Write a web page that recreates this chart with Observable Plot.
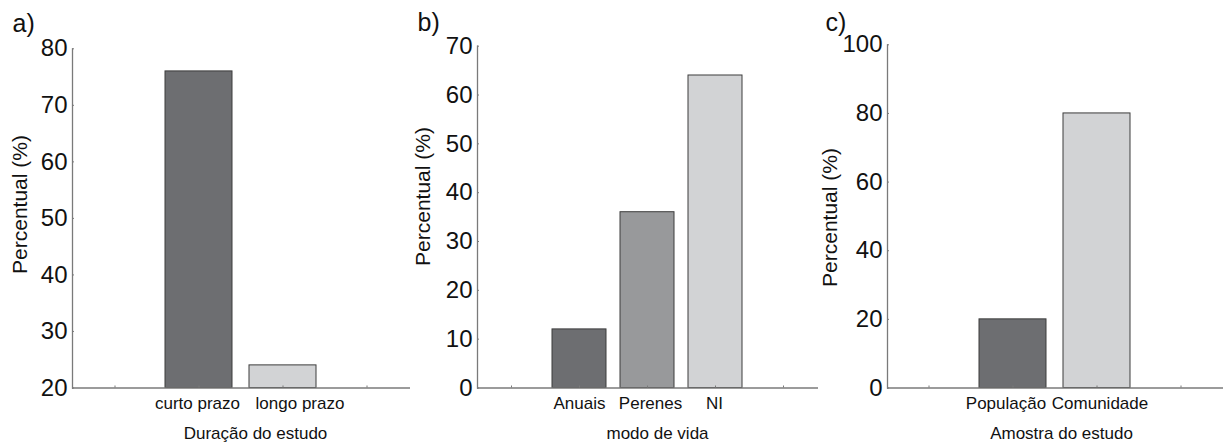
<!DOCTYPE html>
<html><head><meta charset="utf-8">
<script src="https://cdn.jsdelivr.net/npm/d3@7"></script>
<script src="https://cdn.jsdelivr.net/npm/@observablehq/plot@0.6"></script>
<style>
html,body{margin:0;padding:0;background:#fff;}
#wrap{position:relative;width:1223px;height:446px;display:flex;overflow:hidden;}
#wrap svg{display:block;flex:none;overflow:visible;}
</style></head><body><div id="wrap"></div>
<script>
// ---- Data ----
// a) Duração do estudo
const catsA = ["curto prazo", "longo prazo"];
const valsA = [76, 24];
const colorsA = ["#6d6e71", "#d2d3d5"];
const ticksA = [20, 30, 40, 50, 60, 70, 80];
const domainA = [20, 80];
const xLabelA = "Duração do estudo";

// b) modo de vida
const catsB = ["Anuais", "Perenes", "NI"];
const valsB = [12, 36, 64];
const colorsB = ["#6d6e71", "#98999b", "#d2d3d5"];
const ticksB = [0, 10, 20, 30, 40, 50, 60, 70];
const domainB = [0, 70];
const xLabelB = "modo de vida";

// c) Amostra do estudo
const catsC = ["População", "Comunidade"];
const valsC = [20, 80];
const colorsC = ["#6d6e71", "#d2d3d5"];
const ticksC = [0, 20, 40, 60, 80, 100];
const domainC = [0, 100];
const xLabelC = "Amostra do estudo";

const yLabel = "Percentual (%)";
const panelLabels = ["a)", "b)", "c)"];

const FONT = "'Liberation Sans', Arial, Helvetica, sans-serif";
const H = 446;
const AXIS = "#7a7a7a";

function makePanel(p) {
  const pad0 = "\u2009L", pad1 = "\u2009R";
  const domain = [pad0, ...p.cats, pad1];
  const data = p.cats.map((c, i) => ({cat: c, val: p.vals[i], color: p.colors[i]}));
  const fl = p.marginLeft, fr = p.width - p.marginRight;
  const ft = p.marginTop, fb = H - p.marginBottom;
  const fcx = (fl + fr) / 2, fcy = (ft + fb) / 2;
  const rel = x => x - p.left;
  const catLabels = p.cats.map((c, i) =>
    Plot.text([c], {x: d => d, text: d => d, frameAnchor: "bottom", textAnchor: "middle", lineAnchor: "bottom",
      fontSize: 17, fill: "#111", dx: p.catDx[i], dy: 408.5 - fb}));
  return Plot.plot({
    width: p.width, height: H,
    marginLeft: p.marginLeft, marginRight: p.marginRight,
    marginTop: p.marginTop, marginBottom: p.marginBottom,
    style: {fontFamily: FONT, background: "transparent", overflow: "visible"},
    x: {type: "band", domain, paddingInner: 0.2, paddingOuter: 0.1, label: null},
    y: {domain: p.yDomain, label: null},
    marks: [
      Plot.barY(data, {x: "cat", y1: p.yDomain[0], y2: "val", fill: "color", stroke: "#3c3c3c", strokeWidth: 1}),
      Plot.ruleY([p.yDomain[0]], {stroke: AXIS, strokeWidth: 1.3}),
      Plot.frame({anchor: "left", stroke: AXIS, strokeWidth: 1.3}),
      Plot.axisY(p.ticks, {tickSize: -2, tickPadding: 7, fontSize: 24, stroke: AXIS, fill: "#111", label: null}),
      Plot.axisX({tickSize: -2, stroke: AXIS, label: null, tickFormat: () => ""}),
      ...catLabels,
      Plot.text([yLabel], {text: d => d, frameAnchor: "left", textAnchor: "middle", lineAnchor: "middle",
        rotate: -90, fontSize: 21, fill: "#111",
        dx: rel(p.yLabelPos[0]) - fl, dy: p.yLabelPos[1] - fcy}),
      Plot.text([p.xLabel], {text: d => d, frameAnchor: "bottom", textAnchor: "middle", lineAnchor: "bottom",
        fontSize: 17, fill: "#111",
        dx: rel(p.xLabelPos[0]) - fcx, dy: p.xLabelPos[1] - fb}),
      Plot.text([p.panelLabel], {text: d => d, frameAnchor: "top-left", textAnchor: "start", lineAnchor: "bottom",
        fontSize: 25, fill: "#111", dx: rel(p.panelPos[0]) - fl, dy: p.panelPos[1] - ft})
    ]
  });
}

const wrap = document.getElementById("wrap");
wrap.append(makePanel({
  left: 0, width: 412, marginLeft: 72, marginRight: 2, marginTop: 48.3, marginBottom: 58.5,
  cats: catsA, vals: valsA, colors: colorsA, ticks: ticksA, yDomain: domainA, xLabel: xLabelA,
  catDx: [-1.5, 17],
  panelLabel: panelLabels[0], panelPos: [12, 31], yLabelPos: [20, 204], xLabelPos: [255, 438]
}));
wrap.append(makePanel({
  left: 412, width: 406, marginLeft: 65, marginRight: 0, marginTop: 45.7, marginBottom: 58.5,
  cats: catsB, vals: valsB, colors: colorsB, ticks: ticksB, yDomain: domainB, xLabel: xLabelB,
  catDx: [0, 3, -1],
  panelLabel: panelLabels[1], panelPos: [417, 30], yLabelPos: [423, 196], xLabelPos: [657, 438]
}));
wrap.append(makePanel({
  left: 818, width: 405, marginLeft: 69, marginRight: 0, marginTop: 44.3, marginBottom: 58.5,
  cats: catsC, vals: valsC, colors: colorsC, ticks: ticksC, yDomain: domainC, xLabel: xLabelC,
  catDx: [-7, 3],
  panelLabel: panelLabels[2], panelPos: [825, 30], yLabelPos: [830, 217], xLabelPos: [1061, 438]
}));
</script></body></html>
